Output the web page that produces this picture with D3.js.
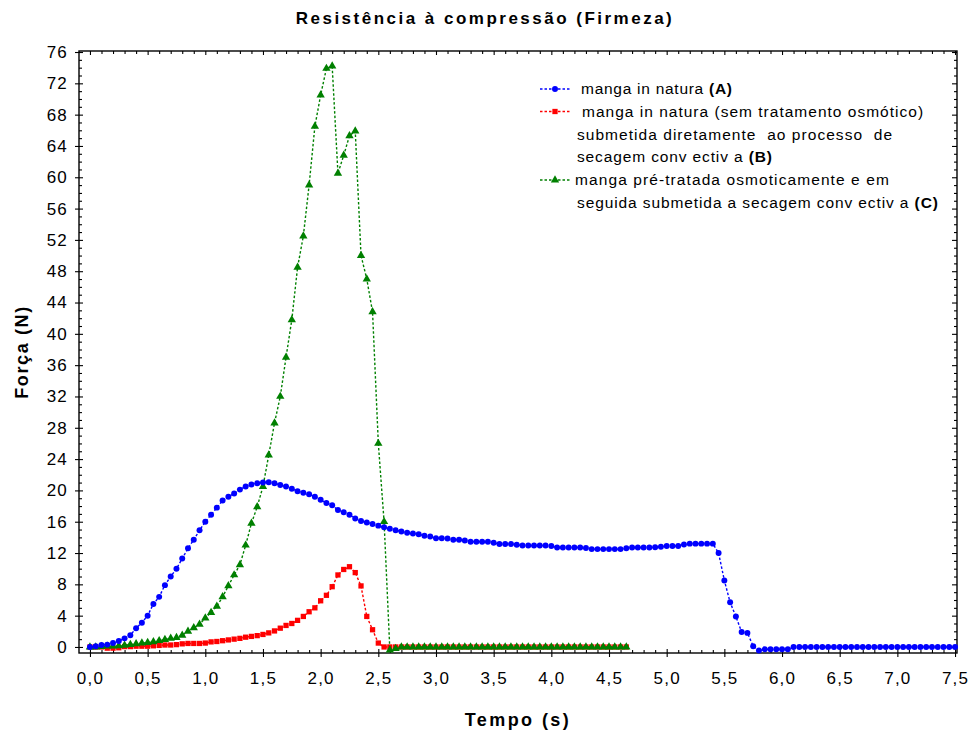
<!DOCTYPE html>
<html><head><meta charset="utf-8">
<script src="https://cdn.jsdelivr.net/npm/d3@7"></script>
<style>
body{margin:0;background:#fff}
text{font-family:"Liberation Sans",Arial,sans-serif;fill:#000}
</style>
</head><body>
<svg id="c" width="975" height="734"></svg>
<script>
// ---- data (force in N, sampled every 0.05 s starting at t = 0) ----
const sampleStep = 0.05;
const blueForce = [
 0,0.1,0.25,0.3,0.5,0.75,1.1,1.5,2.4,3.1,
 4.0,5.5,6.4,7.9,9.0,10.0,11.3,12.6,13.7,14.9,
 16.0,16.9,17.8,18.7,19.2,19.6,20.1,20.5,20.75,20.9,
 21.0,21.05,20.9,20.7,20.5,20.2,19.9,19.7,19.5,19.2,
 18.8,18.4,18.1,17.5,17.2,16.9,16.4,16.1,15.9,15.7,
 15.5,15.3,15.1,14.9,14.75,14.6,14.5,14.4,14.2,14.1,
 13.9,13.9,13.85,13.7,13.7,13.6,13.45,13.45,13.45,13.45,
 13.3,13.15,13.15,13.15,13.05,12.95,12.95,12.95,12.95,12.95,
 12.9,12.7,12.7,12.7,12.7,12.7,12.65,12.5,12.5,12.5,
 12.5,12.5,12.5,12.6,12.7,12.7,12.7,12.7,12.75,12.8,
 12.9,12.9,12.9,13.1,13.2,13.2,13.2,13.2,13.2,12.0,
 8.5,5.7,3.9,1.9,1.8,0.1,-0.45,-0.3,-0.3,-0.3,
 -0.3,-0.3,0,0,0,0,0,0,0,0,
 0,0,0,0,0,0,0,0,0,0,
 0,0,0,0,0,0,0,0,0,0,
 0
];
const redForce = [
 0,0,0,-0.15,-0.15,-0.1,0.05,0.05,0.1,0.1,
 0.1,0.15,0.2,0.25,0.25,0.3,0.4,0.45,0.45,0.45,
 0.5,0.65,0.7,0.8,0.9,1.0,1.1,1.25,1.35,1.45,
 1.6,1.8,2.05,2.4,2.75,3.0,3.4,3.9,4.5,5.0,
 5.9,6.6,7.7,9.2,9.9,10.25,9.5,7.8,3.9,2.2,
 0.5,0,0,0,0,0,0,0,0,0,
 0,0,0,0,0,0,0,0,0,0,
 0,0,0,0,0,0,0,0,0,0,
 0,0,0,0,0,0,0,0,0,0,
 0,0,0,0
];
const greenForce = [
 0,0,0.05,0.1,0.1,0.15,0.2,0.3,0.4,0.5,
 0.55,0.65,0.8,0.95,1.1,1.2,1.5,2.0,2.45,2.9,
 3.7,4.4,5.2,6.4,7.8,9.2,10.5,13.0,15.8,17.9,
 20.5,24.5,28.6,32.0,37.0,41.8,48.5,52.5,59.0,66.5,
 70.5,73.9,74.2,60.5,62.8,65.3,65.9,50.0,47.0,42.8,
 26.0,16.0,-0.4,-0.2,0,0,0,0,0,0,
 0,0,0,0,0,0,0,0,0,0,
 0,0,0,0,0,0,0,0,0,0,
 0,0,0,0,0,0,0,0,0,0,
 0,0,0,0
];
const xTickValues = [0,0.5,1,1.5,2,2.5,3,3.5,4,4.5,5,5.5,6,6.5,7,7.5];
const yTickValues = [0,4,8,12,16,20,24,28,32,36,40,44,48,52,56,60,64,68,72,76];
const chartTitle = "Resistência à compressão (Firmeza)";
const xTitle = "Tempo (s)";
const yTitle = "Força (N)";

// ---- layout ----
const svg = d3.select("#c");
const L = 79, R = 957, T = 51, B = 653;
const x = d3.scaleLinear().domain([-0.095, 7.517]).range([L, R]);
const y = d3.scaleLinear().domain([-0.77, 76.13]).range([B, T]);

function fit(sel, width){
  const n = sel.node();
  const w = n.getComputedTextLength();
  const c = n.textContent.length;
  if (c > 1) sel.attr("letter-spacing", ((width - w) / (c - 1)).toFixed(2));
}

const fmtX = d => d3.format(".1f")(d).replace(".", ",");
const xMinor = d3.range(0, 76).map(i => i / 10).filter(v => Math.round(v*10) % 5 !== 0);
const yMinor = d3.range(0, 77).filter(v => v % 4 !== 0);

// frame
svg.append("rect").attr("x", L).attr("y", T).attr("width", R - L).attr("height", B - T)
  .attr("fill", "none").attr("stroke", "#000").attr("stroke-width", 1.4);

function axisG(axis, tx, ty){
  const g = svg.append("g").attr("transform", `translate(${tx},${ty})`).call(axis);
  g.select(".domain").remove();
  g.selectAll("line").attr("stroke", "#000").attr("stroke-width", 1.1);
  return g;
}
const tickFont = '"Liberation Sans",Arial,sans-serif';
// bottom
const gxb = axisG(d3.axisBottom(x).tickValues(xTickValues).tickSize(4).tickPadding(15).tickFormat(fmtX), 0, B);
gxb.selectAll("text").attr("font-size", 17).attr("letter-spacing", 1.2).attr("fill", "#000").style("font-family", tickFont);
axisG(d3.axisBottom(x).tickValues(xTickValues).tickSize(-4).tickFormat(""), 0, B);
axisG(d3.axisBottom(x).tickValues(xMinor).tickSize(-3).tickFormat(""), 0, B);
// top
axisG(d3.axisTop(x).tickValues(xTickValues).tickSize(-4).tickFormat(""), 0, T);
axisG(d3.axisTop(x).tickValues(xMinor).tickSize(-3).tickFormat(""), 0, T);
// left
const gyl = axisG(d3.axisLeft(y).tickValues(yTickValues).tickSize(4).tickPadding(7), L, 0);
gyl.selectAll("text").attr("font-size", 17).attr("letter-spacing", 1.2).attr("fill", "#000").style("font-family", tickFont);
axisG(d3.axisLeft(y).tickValues(yTickValues).tickSize(-4).tickFormat(""), L, 0);
axisG(d3.axisLeft(y).tickValues(yMinor).tickSize(-3).tickFormat(""), L, 0);
// right
axisG(d3.axisRight(y).tickValues(yTickValues).tickSize(-5).tickFormat(""), R, 0);
axisG(d3.axisRight(y).tickValues(yMinor).tickSize(-3).tickFormat(""), R, 0);

// ---- series ----
const series = [
  {name: "B", values: redForce, color: "#ff0000", shape: "square"},
  {name: "C", values: greenForce, color: "#008000", shape: "triangle"},
  {name: "A", values: blueForce, color: "#0000ff", shape: "circle"}
];
const line = d3.line().x((d, i) => x(i * sampleStep)).y(d => y(d));
const symSize = {circle: 28, square: 28, triangle: 30};
const symType = {circle: d3.symbolCircle, square: d3.symbolSquare, triangle: d3.symbolTriangle};

series.forEach(s => {
  const g = svg.append("g");
  g.append("path").datum(s.values).attr("d", line)
    .attr("fill", "none").attr("stroke", s.color).attr("stroke-width", 1.4)
    .attr("stroke-dasharray", "2.5,2");
  g.selectAll("path.pt").data(s.values).join("path").attr("class", "pt")
    .attr("transform", (d, i) => `translate(${x(i * sampleStep)},${y(d)})`)
    .attr("d", d3.symbol().type(symType[s.shape]).size(symSize[s.shape]))
    .attr("fill", s.color);
});

// ---- titles ----
const tt = svg.append("text").attr("x", 485).attr("y", 24).attr("text-anchor", "middle")
  .attr("font-size", 17).attr("font-weight", "bold").text(chartTitle);
fit(tt, 376);
const xt = svg.append("text").attr("x", 518).attr("y", 726).attr("text-anchor", "middle")
  .attr("font-size", 18).attr("font-weight", "bold").text(xTitle);
fit(xt, 104);
const yt = svg.append("text").attr("transform", "translate(28,352) rotate(-90)").attr("text-anchor", "middle")
  .attr("font-size", 18).attr("font-weight", "bold").text(yTitle);
fit(yt, 92);

// ---- legend ----
const legendRows = [
  {parts: [["manga in natura ", false], ["(A)", true]], x: 581, y: 94, w: 151},
  {parts: [["manga in natura (sem tratamento osmótico)", false]], x: 582, y: 117, w: 341},
  {parts: [["submetida diretamente  ao processo  de", false]], x: 577, y: 140, w: 315},
  {parts: [["secagem conv ectiv a ", false], ["(B)", true]], x: 577, y: 162, w: 195},
  {parts: [["manga pré-tratada osmoticamente e em", false]], x: 575, y: 185, w: 314},
  {parts: [["seguida submetida a secagem conv ectiv a ", false], ["(C)", true]], x: 577, y: 208, w: 361}
];
legendRows.forEach(r => {
  const t = svg.append("text").attr("x", r.x).attr("y", r.y).attr("font-size", 15.5)
    .style("white-space", "pre").attr("xml:space", "preserve");
  r.parts.forEach(p => t.append("tspan").attr("font-weight", p[1] ? "bold" : "normal").text(p[0]));
  fit(t, r.w);
});
const legendKeys = [
  {color: "#0000ff", shape: "circle", y: 89},
  {color: "#ff0000", shape: "square", y: 111.5},
  {color: "#008000", shape: "triangle", y: 180}
];
legendKeys.forEach(k => {
  svg.append("line").attr("x1", 540).attr("x2", 571).attr("y1", k.y).attr("y2", k.y)
    .attr("stroke", k.color).attr("stroke-width", 1.4).attr("stroke-dasharray", "2.5,2");
  svg.append("path").attr("transform", `translate(555,${k.y})`)
    .attr("d", d3.symbol().type(symType[k.shape]).size(symSize[k.shape])).attr("fill", k.color);
});
</script>
</body></html>
